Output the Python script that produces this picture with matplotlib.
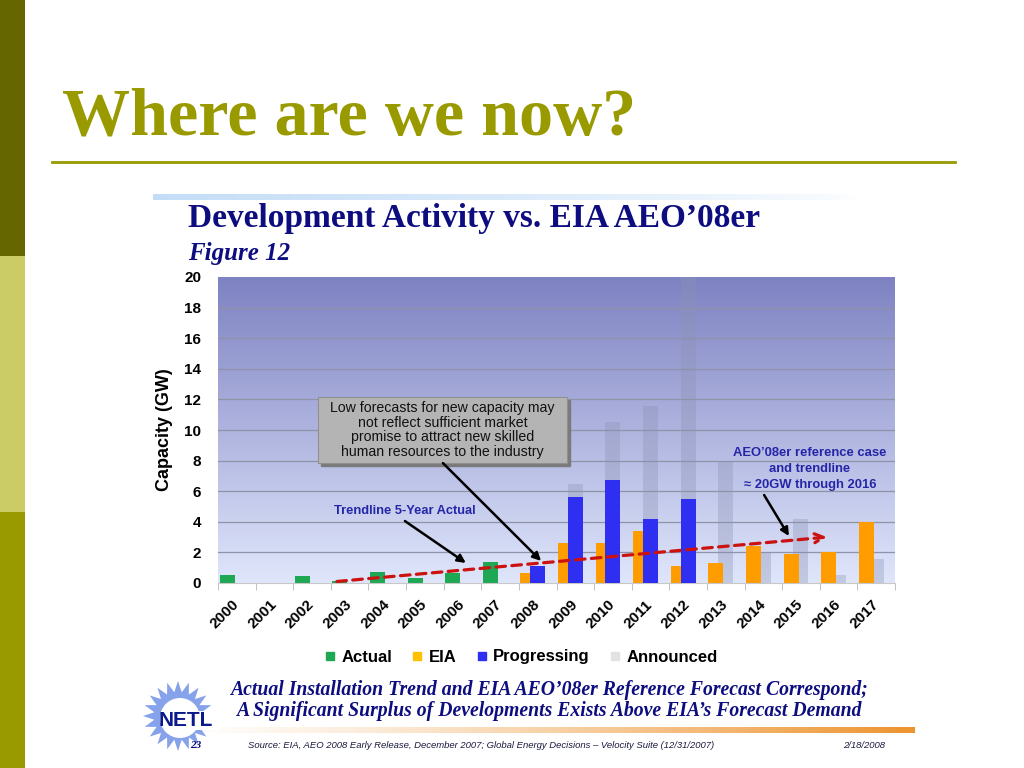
import numpy as np
import matplotlib.pyplot as plt
from matplotlib.lines import Line2D
from matplotlib.patches import Rectangle, Polygon, Circle

plt.rcParams['font.family'] = ['Liberation Sans', 'DejaVu Sans']

# --- DATOS (GW) ---
years = list(range(2000, 2018))
actual = [0.5, 0, 0.45, 0.1, 0.7, 0.35, 0.65, 1.35, 0, 0, 0, 0, 0, 0, 0, 0, 0, 0]
eia = [0, 0, 0, 0, 0, 0, 0, 0, 0.65, 2.6, 2.6, 3.4, 1.1, 1.3, 2.4, 1.9, 2.0, 4.0]
progressing = [0, 0, 0, 0, 0, 0, 0, 0, 1.1, 5.6, 6.7, 4.2, 5.5, 0, 0, 0, 0, 0]
announced = [0, 0, 0, 0, 0, 0, 0, 0, 0, 0.9, 3.8, 7.4, 14.5, 8.0, 2.0, 4.2, 0.5, 1.6]

trend_years = [2002.66, 2015.69]
trend_vals = [0.1, 3.0]

legend_labels = ['Actual', 'EIA', 'Progressing', 'Announced']

C_GREEN = '#1fa854'
C_ORANGE = '#ff9c00'
C_BLUE = '#2f2ff2'
C_NAVY = '#0d0d80'
OLIVE = '#999900'

W, H = 1024, 768
fig = plt.figure(figsize=(W / 100, H / 100), dpi=100)

# --- fondo de la diapositiva en pixeles ---
bg = fig.add_axes([0, 0, 1, 1])
bg.set_xlim(0, W)
bg.set_ylim(H, 0)
bg.axis('off')

bg.add_patch(Rectangle((0, 0), 25, 256, color='#666600', lw=0))
bg.add_patch(Rectangle((0, 256), 25, 256, color='#cccc66', lw=0))
bg.add_patch(Rectangle((0, 512), 25, 256, color=OLIVE, lw=0))

bg.text(62, 134, 'Where are we now?', family='Liberation Serif', fontweight='bold',
        fontsize=49, color=OLIVE, ha='left', va='baseline')
bg.plot([52, 955], [162, 162], color=OLIVE, lw=2)

# barra azul clara sobre el titulo del grafico
grad = np.zeros((1, 256, 4))
grad[..., 0], grad[..., 1], grad[..., 2] = 0.77, 0.87, 0.97
grad[..., 3] = np.linspace(1, 0, 256) ** 0.7
bg.imshow(grad, extent=(153, 860, 200, 194), aspect='auto', zorder=1)

bg.text(188, 227, 'Development Activity vs. EIA AEO\u201908er', family='Liberation Serif',
        fontweight='bold', fontsize=24, color=C_NAVY, ha='left', va='baseline')
bg.text(188, 260, 'Figure 12', family='Liberation Serif', fontweight='bold', style='italic',
        fontsize=18, color=C_NAVY, ha='left', va='baseline')

# texto inferior
bg.text(549, 695, 'Actual Installation Trend and EIA AEO\u201908er Reference Forecast Correspond;',
        family='Liberation Serif', fontweight='bold', style='italic', fontsize=14.2,
        color=C_NAVY, ha='center', va='baseline')
bg.text(549, 716, 'A Significant Surplus of Developments Exists Above EIA\u2019s Forecast Demand',
        family='Liberation Serif', fontweight='bold', style='italic', fontsize=14.2,
        color=C_NAVY, ha='center', va='baseline')

og = np.ones((1, 256, 4))
og[..., 0], og[..., 1], og[..., 2] = 0.93, 0.58, 0.18
og[..., 3] = np.linspace(0.05, 1, 256) ** 1.3
bg.imshow(og, extent=(200, 915, 733, 727), aspect='auto', zorder=1)

bg.text(248, 748, 'Source: EIA, AEO 2008 Early Release, December 2007; Global Energy Decisions \u2013 Velocity Suite (12/31/2007)',
        style='italic', fontsize=6.8, color='#1a1a40', ha='left', va='baseline')
bg.text(885, 748, '2/18/2008', style='italic', fontsize=6.8, color='#1a1a40', ha='right', va='baseline')

# logo NETL aproximado
ang = np.linspace(0, 2 * np.pi, 41)[:-1]
rad = np.where(np.arange(40) % 2 == 0, 35, 24)
star = np.column_stack([178 + rad * np.cos(ang), 716 + rad * np.sin(ang)])
bg.add_patch(Polygon(star, closed=True, color='#86a2ea', lw=0, zorder=2))
bg.add_patch(Circle((180, 718), 20, color='white', lw=0, zorder=3))
bg.add_patch(Rectangle((168, 711), 52, 19, color='white', lw=0, zorder=3))
bg.text(186, 721, 'NETL', fontweight='bold', fontsize=15, color='#0a1a8a',
        ha='center', va='center', zorder=4)
bg.text(196, 748, '23', family='Liberation Serif', fontweight='bold', style='italic',
        fontsize=8, color=C_NAVY, ha='center', va='baseline', zorder=4)

# --- GRAFICO DE BARRAS ---
ax = fig.add_axes([218 / W, 1 - 583 / H, 677 / W, 306 / H])
x = np.arange(len(years))
bw = 0.4

ax.imshow(np.linspace(0, 1, 256).reshape(-1, 1), cmap=plt.matplotlib.colors.LinearSegmentedColormap.from_list(
    'fondo', ['#7e82c2', '#dfe6fb']), extent=(-0.5, 17.5, 0, 20), aspect='auto', zorder=0)

for yv in range(2, 20, 2):
    ax.axhline(yv, color='#8f93a8', lw=0.9, zorder=0.5)

ax.bar(x - 0.26, actual, bw, color=C_GREEN, zorder=2)
ax.bar(x - 0.26, eia, bw, color=C_ORANGE, zorder=2)
ax.bar(x, announced, bw, bottom=progressing, color='#8c92b4', alpha=0.35, lw=0, zorder=1)
ax.bar(x, progressing, bw, color=C_BLUE, zorder=3)

tx = [t - 2000 for t in trend_years]
ax.annotate('', xy=(tx[1], trend_vals[1]), xytext=(tx[0], trend_vals[0]),
            arrowprops=dict(arrowstyle='->', color='#cc1111', lw=2.3, ls=(0, (3, 2)),
                            mutation_scale=16, shrinkA=0, shrinkB=0), zorder=4)

ax.set_xlim(-0.5, 17.5)
ax.set_ylim(0, 20)
ax.set_yticks(range(0, 21, 2))
ax.set_yticklabels([str(v) for v in range(0, 21, 2)], fontweight='bold', fontsize=11)
ax.set_xticks(x)
ax.set_xticklabels([str(y) for y in years], rotation=45, ha='right', va='center',
                   rotation_mode='anchor', fontweight='bold', fontsize=11)
ax.set_xticks(np.arange(-0.5, 18, 1), minor=True)
ax.tick_params(axis='x', which='major', length=0, pad=14)
ax.tick_params(axis='x', which='minor', length=5, color='#b8b8b8')
ax.tick_params(axis='y', length=0, pad=12)
for s in ['top', 'right', 'left']:
    ax.spines[s].set_visible(False)
ax.spines['bottom'].set_color('#c8c8c8')
ax.set_ylabel('Capacity (GW)', fontweight='bold', fontsize=13, labelpad=8)

# recuadro gris con sombra
ax.add_patch(Rectangle((2.24, 7.64), 6.62, 4.32, color='#7a7a7a', zorder=5, clip_on=False))
ax.add_patch(Rectangle((2.16, 7.84), 6.62, 4.32, fc='#b4b4b4', ec='#909090', lw=0.8, zorder=6))
ax.text(5.47, 10.0, 'Low forecasts for new capacity may\nnot reflect sufficient market\n'
        'promise to attract new skilled\nhuman resources to the industry',
        ha='center', va='center', fontsize=10.2, color='#111111', linespacing=1.05, zorder=7)
ax.annotate('', xy=(8.09, 1.44), xytext=(5.48, 7.84),
            arrowprops=dict(arrowstyle='-|>', color='black', lw=1.8, mutation_scale=12,
                            shrinkA=0, shrinkB=0), zorder=7)

ax.text(4.47, 4.7, 'Trendline 5-Year Actual', ha='center', va='center', fontsize=9.3,
        fontweight='bold', color='#2525a8', zorder=7)
ax.annotate('', xy=(6.09, 1.31), xytext=(4.47, 4.05),
            arrowprops=dict(arrowstyle='-|>', color='black', lw=1.8, mutation_scale=12,
                            shrinkA=0, shrinkB=0), zorder=7)

ax.text(15.24, 7.45, 'AEO\u201908er reference case\nand trendline\n\u2248 20GW through 2016',
        ha='center', va='center', fontsize=9.4, fontweight='bold', color='#2525a8',
        linespacing=1.4, zorder=7)
ax.annotate('', xy=(14.68, 3.07), xytext=(14.02, 5.75),
            arrowprops=dict(arrowstyle='-|>', color='black', lw=1.8, mutation_scale=12,
                            shrinkA=0, shrinkB=0), zorder=7)

handles = [Line2D([], [], ls='none', marker='s', markersize=6, color=c)
           for c in [C_GREEN, '#ffc000', C_BLUE, '#e2e2e2']]
fig.legend(handles, legend_labels, loc='center', bbox_to_anchor=(0.509, 1 - 657 / H), ncol=4,
           frameon=False, handlelength=0.6, handletextpad=0.4, columnspacing=1.2,
           prop={'weight': 'bold', 'size': 12})

fig.savefig('out.png', dpi=100)
